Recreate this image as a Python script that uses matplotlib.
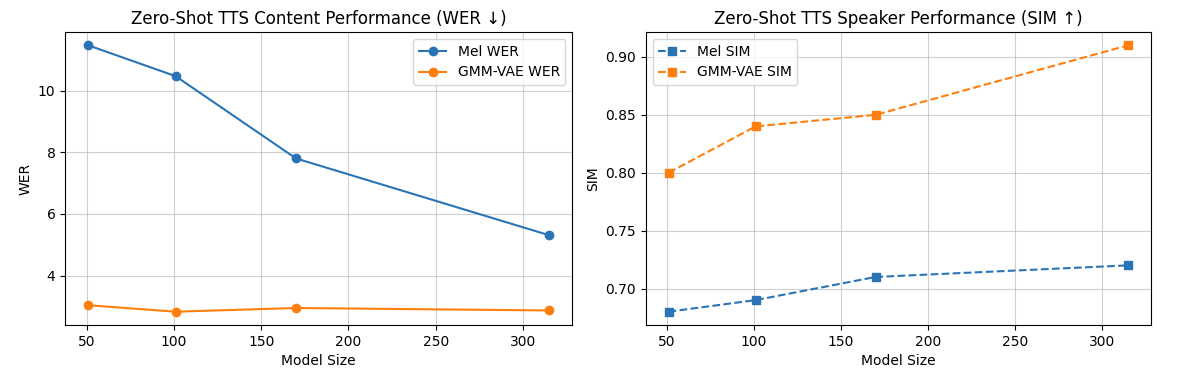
import matplotlib
matplotlib.use("Agg")
import matplotlib.pyplot as plt

model_size = [51, 101, 170, 315]

mel_wer = [11.47, 10.47, 7.8, 5.31]
gmm_wer = [3.04, 2.83, 2.95, 2.87]

mel_sim = [0.68, 0.69, 0.71, 0.72]
gmm_sim = [0.80, 0.84, 0.85, 0.91]

blue = "#2a74b5"
orange = "#ff7f0e"

fig = plt.figure(figsize=(11.95, 3.83), dpi=100)
ax1 = fig.add_axes([0.0546, 0.1514, 0.4243, 0.765])
ax2 = fig.add_axes([0.5403, 0.1514, 0.4228, 0.765])

# left: WER
ax1.plot(model_size, mel_wer, marker="o", color=blue, label="Mel WER")
ax1.plot(model_size, gmm_wer, marker="o", color=orange, label="GMM-VAE WER")
ax1.set_title("Zero-Shot TTS Content Performance (WER ↓)", fontsize=12)
ax1.set_xlabel("Model Size")
ax1.set_ylabel("WER")
ax1.grid(True, alpha=0.6)
ax1.legend(loc="upper right")

# right: SIM
ax2.plot(model_size, mel_sim, marker="s", linestyle="--", color=blue, label="Mel SIM")
ax2.plot(model_size, gmm_sim, marker="s", linestyle="--", color=orange, label="GMM-VAE SIM")
ax2.set_title("Zero-Shot TTS Speaker Performance (SIM ↑)", fontsize=12)
ax2.set_xlabel("Model Size")
ax2.set_ylabel("SIM")
ax2.grid(True, alpha=0.6)
ax2.legend(loc="upper left")

fig.savefig("out.png", dpi=100)
